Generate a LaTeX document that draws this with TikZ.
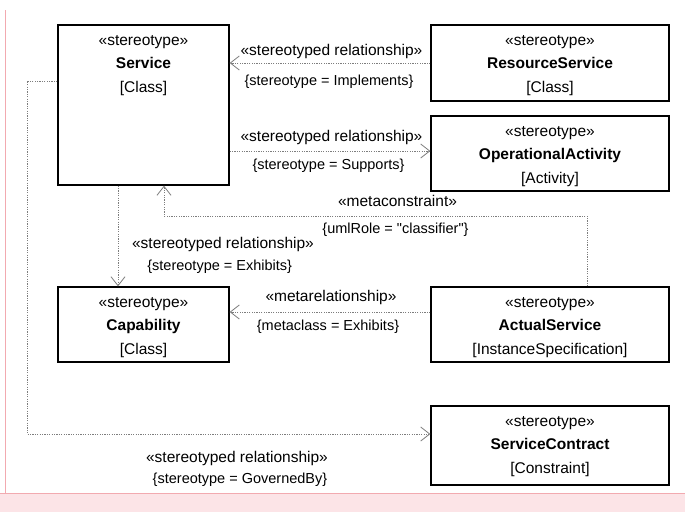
\documentclass[tikz,border=0pt]{standalone}
\usepackage{fontspec}
\setmainfont{Liberation Sans}
\newfontfamily\lsans{Liberation Sans}
\usetikzlibrary{arrows.meta,calc}
\definecolor{conngray}{RGB}{125,125,125}
\definecolor{pinkline}{RGB}{242,170,176}
\definecolor{pinkfill}{RGB}{252,228,231}
\newcommand\umlclass[7]{%
  \node[umlbox, minimum width=#4pt, minimum height=#5pt] (#1) at (#2,{#3+#5/2}) {};
  \node[boxtext] (#1-st) at (#2,{#3+20}) {«stereotype»};
  \node[boldtext] (#1-nm) at (#2,{#3+43.5}) {#6};
  \node[boxtext] (#1-kd) at (#2,{#3+67}) {[#7]};
}
\begin{document}
\begin{tikzpicture}[x=1pt,y=-1pt,
  umlbox/.style={draw=black, line width=1.3pt, fill=white, rectangle, inner sep=0pt},
  boxtext/.style={anchor=base, inner sep=0pt, font=\lsans\fontsize{15.5pt}{18pt}\selectfont},
  boldtext/.style={boxtext, font=\lsans\fontsize{15.5pt}{18pt}\selectfont\bfseries},
  stlabel/.style={inner sep=0pt, font=\lsans\fontsize{15.5pt}{18pt}\selectfont},
  tvlabel/.style={inner sep=0pt, font=\lsans\fontsize{14.5pt}{17pt}\selectfont},
  conn/.style={draw=conngray, line width=0.8pt, dash pattern=on 1.2pt off 1.2pt,
    -{Straight Barb[length=9pt,width=14pt,line width=0.8pt]}},
]
\useasboundingbox (0,0) rectangle (685,512);
\fill[white] (0,0) rectangle (685,512);
% page decoration
\fill[pinkfill] (0,493) rectangle (685,512);
\draw[pinkline, line width=0.8pt] (0,493) -- (685,493);
\draw[pinkline, line width=1pt] (5,10) -- (5,493);

% classes
\umlclass{service}{143.5}{25}{171}{160}{Service}{Class}
\umlclass{resource}{550}{25}{238}{76}{ResourceService}{Class}
\umlclass{oa}{550}{116}{238}{75}{OperationalActivity}{Activity}
\umlclass{capability}{143.5}{287}{171}{75}{Capability}{Class}
\umlclass{actual}{550}{287}{238}{75}{ActualService}{InstanceSpecification}
\umlclass{contract}{550}{406}{238}{79}{ServiceContract}{Constraint}

% connector routing points
\coordinate (sp) at (431,151);
\coordinate (mcA) at (587,216);
\coordinate (mcB) at (164,216);
\coordinate (ex) at (118,240);
\coordinate (mr) at (330,312);
\coordinate (gbA) at (27,81);
\coordinate (gbB) at (27,434);

% connectors
\draw[conn] (resource.west) -- (resource.west -| service.east);
\draw[conn] (service.east |- sp) -- (oa.west |- sp);
\draw[conn] (actual.north -| mcA) -- (mcA) -- (mcB) -- (service.south -| mcB);
\draw[conn] (service.south -| ex) -- (capability.north -| ex);
\draw[conn] (actual.west |- mr) -- (capability.east |- mr);
\draw[conn] (service.west |- gbA) -- (gbA) -- (gbB) -- (contract.west |- gbB);

% labels
\node[stlabel] (l1a) at (331.5,51.7) {«stereotyped relationship»};
\node[tvlabel] (l1b) at (329,81.7) {\{stereotype = Implements\}};
\node[stlabel] (l2a) at (331.5,137.3) {«stereotyped relationship»};
\node[tvlabel] (l2b) at (328.5,165.7) {\{stereotype = Supports\}};
\node[stlabel] (l3a) at (397.5,201) {«metaconstraint»};
\node[tvlabel] (l3b) at (395.5,230) {\{umlRole = "classifier"\}};
\node[stlabel] (l4a) at (223,244.3) {«stereotyped relationship»};
\node[tvlabel] (l4b) at (219.7,266.7) {\{stereotype = Exhibits\}};
\node[stlabel] (l5a) at (331,297.7) {«metarelationship»};
\node[tvlabel] (l5b) at (328,326.7) {\{metaclass = Exhibits\}};
\node[stlabel] (l6a) at (237,458) {«stereotyped relationship»};
\node[tvlabel] (l6b) at (240,480) {\{stereotype = GovernedBy\}};
\end{tikzpicture}
\end{document}
